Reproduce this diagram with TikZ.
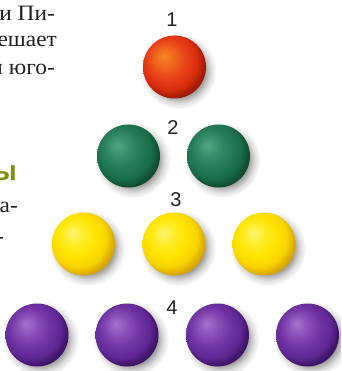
\documentclass[tikz,border=0pt]{standalone}
\usepackage{fontspec}
\setmainfont[FakeStretch=1.06]{Liberation Serif}
\newfontfamily\numfont{Liberation Sans}
\newfontfamily\headfont{Liberation Sans}

\definecolor{txt}{HTML}{231F20}
\definecolor{olivehead}{HTML}{7E900C}

\pgfdeclareradialshading{ballred}{\pgfqpoint{-9bp}{9bp}}{%
 color(0bp)=(rgb,255:red,245;green,136;blue,40);
 color(8bp)=(rgb,255:red,240;green,100;blue,30);
 color(16bp)=(rgb,255:red,232;green,64;blue,26);
 color(23bp)=(rgb,255:red,214;green,44;blue,12);
 color(28bp)=(rgb,255:red,160;green,28;blue,6);
 color(50bp)=(rgb,255:red,80;green,8;blue,0)}
\pgfdeclareradialshading{ballgreen}{\pgfqpoint{-9bp}{9bp}}{%
 color(0bp)=(rgb,255:red,84;green,166;blue,128);
 color(8bp)=(rgb,255:red,56;green,142;blue,108);
 color(16bp)=(rgb,255:red,36;green,122;blue,88);
 color(23bp)=(rgb,255:red,26;green,108;blue,74);
 color(28bp)=(rgb,255:red,16;green,78;blue,50);
 color(50bp)=(rgb,255:red,4;green,32;blue,16)}
\pgfdeclareradialshading{ballyellow}{\pgfqpoint{-9bp}{9bp}}{%
 color(0bp)=(rgb,255:red,255;green,244;blue,120);
 color(8bp)=(rgb,255:red,255;green,236;blue,40);
 color(16bp)=(rgb,255:red,255;green,228;blue,0);
 color(23bp)=(rgb,255:red,248;green,212;blue,0);
 color(28bp)=(rgb,255:red,218;green,170;blue,0);
 color(50bp)=(rgb,255:red,128;green,80;blue,0)}
\pgfdeclareradialshading{ballpurple}{\pgfqpoint{-9bp}{9bp}}{%
 color(0bp)=(rgb,255:red,168;green,114;blue,206);
 color(8bp)=(rgb,255:red,138;green,80;blue,184);
 color(16bp)=(rgb,255:red,112;green,52;blue,164);
 color(23bp)=(rgb,255:red,96;green,40;blue,148);
 color(28bp)=(rgb,255:red,64;green,20;blue,106);
 color(50bp)=(rgb,255:red,24;green,4;blue,48)}
\pgfdeclareradialshading{softshadow}{\pgfqpoint{0bp}{0bp}}{%
 color(0bp)=(black!40);
 color(17bp)=(black!38);
 color(21bp)=(black!14);
 color(25bp)=(white);
 color(50bp)=(white)}

\tikzset{
  ballnode/.style={circle, minimum size=63pt, inner sep=0pt, draw=none},
  shadowdisc/.style={shading=softshadow},
  numlabel/.style={font=\numfont\fontsize{20}{20}\selectfont, text=txt, inner sep=0pt},
  bodytext/.style={font=\fontsize{22}{27}\selectfont, text=txt, anchor=base east, inner sep=0pt},
  headtext/.style={font=\headfont\bfseries\fontsize{28}{30}\selectfont, text=olivehead, anchor=base east, inner sep=0pt}
}

\begin{document}
\begin{tikzpicture}[x=1pt,y=-1pt]
\useasboundingbox (0,0) rectangle (341,371);
\clip (0,0) rectangle (341,371);
\fill[white] (0,0) rectangle (341,371);

% text fragments on the left
\node[bodytext] (t1) at (55,21) {и Пи-};
\node[bodytext] (t2) at (57,47) {ешает};
\node[bodytext] (t3a) at (3,75) {и};
\node[bodytext] (t3) at (55,75) {юго-};
\node[headtext] (h1) at (17,180) {ы};
\node[bodytext] (t4) at (18,212) {ра-};
\node[bodytext] (t5) at (4,243) {-};

% shadows
\foreach \x/\y in {174.5/67, 128.5/156, 218.5/156, 83.5/244, 174/244, 264/244, 37/335, 127/335, 217.5/335, 307.5/335}
  \shade[shadowdisc] (\x+4,\y+4) circle (38pt);

% balls
\node[ballnode, shading=ballred] (r1) at (174.5,67) {};
\node[ballnode, shading=ballgreen] (g1) at (128.5,156) {};
\node[ballnode, shading=ballgreen] (g2) at (218.5,156) {};
\node[ballnode, shading=ballyellow] (y1) at (83.5,244) {};
\node[ballnode, shading=ballyellow] (y2) at (174,244) {};
\node[ballnode, shading=ballyellow] (y3) at (264,244) {};
\node[ballnode, shading=ballpurple] (p1) at (37,335) {};
\node[ballnode, shading=ballpurple] (p2) at (127,335) {};
\node[ballnode, shading=ballpurple] (p3) at (217.5,335) {};
\node[ballnode, shading=ballpurple] (p4) at (307.5,335) {};

% row numbers
\node[numlabel] (n1) at (172,20) {1};
\node[numlabel] (n2) at (173,128) {2};
\node[numlabel] (n3) at (176,200) {3};
\node[numlabel] (n4) at (172,308) {4};
\end{tikzpicture}
\end{document}
